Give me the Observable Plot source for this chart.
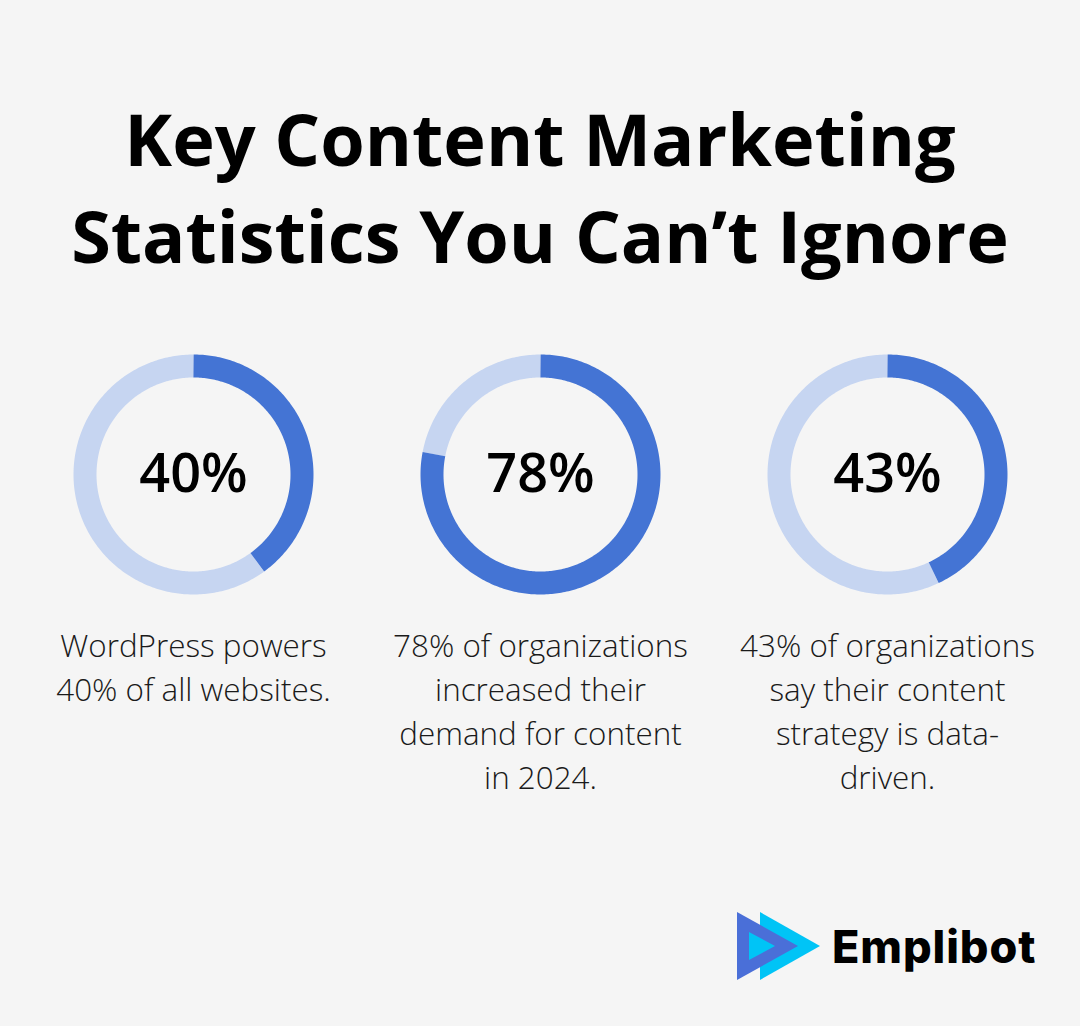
<!DOCTYPE html>
<html>
<head>
<meta charset="utf-8">
<script src="https://cdn.jsdelivr.net/npm/d3@7"></script>
<script src="https://cdn.jsdelivr.net/npm/@observablehq/plot@0.6"></script>
<style>
  html, body { margin: 0; padding: 0; background: #f5f5f5; }
  #page { position: relative; width: 1080px; height: 1026px; background: #f5f5f5; overflow: hidden; font-family: "Open Sans", sans-serif; }
  #title { position: absolute; left: 0; top: 90px; width: 1080px; text-align: center; font-family: "Open Sans", sans-serif; font-weight: 700; font-size: 72px; line-height: 97px; color: #000; margin: 0; letter-spacing: 0; }
  #chart { position: absolute; left: 0; top: 330px; }
  #logo { position: absolute; left: 730px; top: 900px; }
</style>
</head>
<body>
<div id="page">
  <h1 id="title">Key Content Marketing<br>Statistics You Can’t Ignore</h1>
  <div id="chart"></div>
  <svg id="logo" width="330" height="90" viewBox="730 900 330 90">
    <polygon points="760,912 760,980 820,946" fill="#00c4f6"/>
    <polygon points="737,912 737,980 798,946" fill="#4a6fd8"/>
    <polygon points="749,932 749,960 775,946" fill="#00c4f6"/>
    <text x="832" y="963" font-family="Inter, 'DejaVu Sans', sans-serif" font-weight="800" font-size="45" fill="#000" letter-spacing="0.9">Emplibot</text>
  </svg>
</div>
<script>
// ---- data ----
const categories = ["wordpress", "demand", "datadriven"];
const values = [40, 78, 43];
const labels = ["40%", "78%", "43%"];
const descriptions = [
  "WordPress powers\n40% of all websites.",
  "78% of organizations\nincreased their\ndemand for content\nin 2024.",
  "43% of organizations\nsay their content\nstrategy is data-\ndriven."
];

// ---- build arc paths from values (geometry only) ----
const R = 108.5; // mid radius in px units
function arcPoints(cat, from, to, seg) {
  const pts = [];
  const n = Math.max(2, Math.ceil((to - from) / 0.25));
  for (let k = 0; k <= n; k++) {
    const p = from + (to - from) * k / n;
    const a = p / 100 * 2 * Math.PI;
    pts.push({cat, seg, x: R * Math.sin(a), y: R * Math.cos(a)});
  }
  return pts;
}
const rest = categories.flatMap((c, i) => arcPoints(c, values[i], 100, "rest"));
const filled = categories.flatMap((c, i) => arcPoints(c, 0, values[i], "filled"));
const items = categories.map((c, i) => ({cat: c, value: values[i], label: labels[i], desc: descriptions[i]}));

const step = 347;
const chart = Plot.plot({
  width: 1080,
  height: 480,
  marginLeft: 19.5,
  marginRight: 19.5,
  marginTop: 0,
  marginBottom: 0,
  style: {background: "transparent", overflow: "visible"},
  fx: {domain: categories, axis: null, paddingInner: 87 / step, paddingOuter: 43.5 / step, round: false},
  x: {domain: [-130, 130], axis: null},
  y: {domain: [-336, 144], axis: null},
  marks: [
    Plot.line(rest, {fx: "cat", x: "x", y: "y", z: "cat", stroke: "#c6d5f1", strokeWidth: 23, strokeLinecap: "butt", strokeLinejoin: "round", curve: "linear"}),
    Plot.line(filled, {fx: "cat", x: "x", y: "y", z: "cat", stroke: "#4474d4", strokeWidth: 23, strokeLinecap: "butt", strokeLinejoin: "round", curve: "linear"}),
    Plot.text(items, {fx: "cat", x: 0, y: 0, text: "label", fontSize: 54, fontWeight: 580, fill: "#000", textAnchor: "middle", lineAnchor: "middle", fontFamily: "Open Sans"}),
    Plot.text(items, {fx: "cat", x: 0, y: -151, text: "desc", fontSize: 31.4, fontWeight: 350, fill: "#1a1a1a", textAnchor: "middle", lineAnchor: "top", lineHeight: 44 / 31.4, fontFamily: "Open Sans"})
  ]
});
document.getElementById("chart").appendChild(chart);
</script>
</body>
</html>
